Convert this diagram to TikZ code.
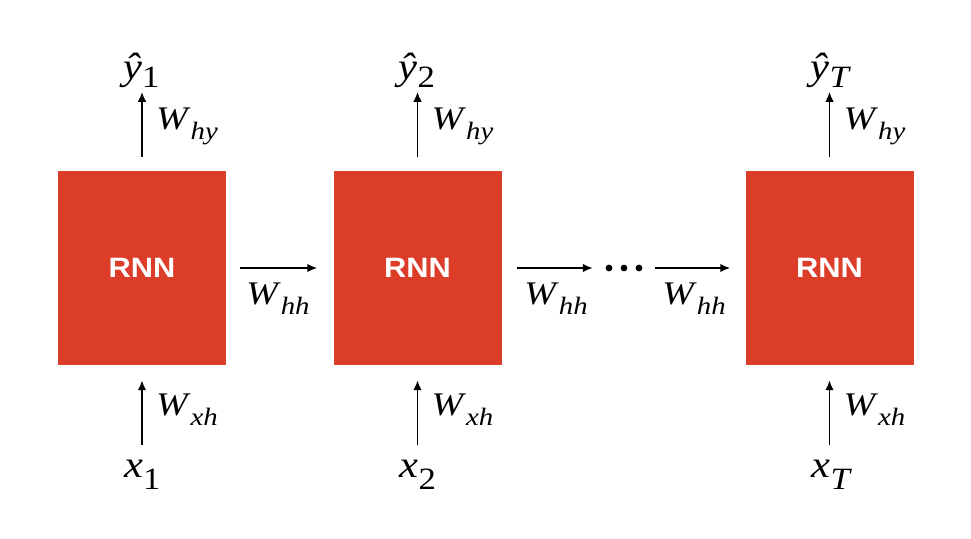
\documentclass[tikz,border=0pt]{standalone}
\usepackage{fontspec}
\usepackage{graphicx}
\setmainfont{Liberation Serif}
\newfontfamily\boxfont{Liberation Sans}
\usetikzlibrary{arrows.meta}
\definecolor{rnnred}{HTML}{DC3D28}
% W labels: slightly stretched Times-like italic with lowered subscript
\newcommand\wl[1]{\scalebox{1.15}[1]{\fontsize{33}{33}\selectfont\textit{W}\raisebox{-10pt}{\fontsize{25}{25}\selectfont\textit{#1}}}}
% input/output labels
\newcommand\io[3]{\scalebox{1.12}[1]{\fontsize{38}{38}\selectfont\textit{#1}\raisebox{-#3}{\fontsize{31}{31}\selectfont #2}}}
\begin{document}
\begin{tikzpicture}[x=1pt,y=1pt,
  rnnbox/.style={fill=rnnred, minimum width=168pt, minimum height=194pt, inner sep=0pt,
    font=\boxfont\bfseries\fontsize{28}{28}\selectfont, text=white},
  lab/.style={inner sep=0pt},
  arr/.style={line width=1.8pt, -{Latex[length=10pt,width=8.5pt]}}]
\useasboundingbox (0,0) rectangle (971,538);
\node[rnnbox] (b1) at (142,270) {\scalebox{1.1}[1]{RNN}};
\node[rnnbox] (b2) at (417.5,270) {\scalebox{1.1}[1]{RNN}};
\node[rnnbox] (b3) at (829.5,270) {\scalebox{1.1}[1]{RNN}};
% outputs
\node[lab, anchor=base west] (y1) at (123,458) {\io{ŷ}{1}{8pt}};
\node[lab, anchor=base west] (y2) at (398.5,458) {\io{ŷ}{2}{8pt}};
\node[lab, anchor=base west] (yT) at (810.5,458) {\io{ŷ}{\textit{T}}{8pt}};
\draw[arr] ([yshift=14pt]b1.north) -- ([yshift=79pt]b1.north);
\draw[arr] ([yshift=14pt]b2.north) -- ([yshift=79pt]b2.north);
\draw[arr] ([yshift=14pt]b3.north) -- ([yshift=79pt]b3.north);
\node[lab, anchor=base west] (w1) at (156,408) {\wl{hy}};
\node[lab, anchor=base west] (w2) at (431.5,408) {\wl{hy}};
\node[lab, anchor=base west] (w3) at (843.5,408) {\wl{hy}};
% inputs
\node[lab, anchor=base west] (x1) at (124,61) {\io{x}{1}{12pt}};
\node[lab, anchor=base west] (x2) at (399.5,61) {\io{x}{2}{12pt}};
\node[lab, anchor=base west] (xT) at (811.5,61) {\io{x}{\textit{T}}{12pt}};
\draw[arr] ([yshift=-80pt]b1.south) -- ([yshift=-15pt]b1.south);
\draw[arr] ([yshift=-80pt]b2.south) -- ([yshift=-15pt]b2.south);
\draw[arr] ([yshift=-80pt]b3.south) -- ([yshift=-15pt]b3.south);
\node[lab, anchor=base west] (v1) at (156,122) {\wl{xh}};
\node[lab, anchor=base west] (v2) at (431.5,122) {\wl{xh}};
\node[lab, anchor=base west] (v3) at (843.5,122) {\wl{xh}};
% recurrent
\node[minimum width=62pt, minimum height=10pt, inner sep=0pt] (dots) at (624,270) {};
\fill ([xshift=-15pt]dots.center) circle (3.4pt);
\fill (dots.center) circle (3.4pt);
\fill ([xshift=15pt]dots.center) circle (3.4pt);
\draw[arr] ([xshift=14pt]b1.east) -- ([xshift=-16pt]b2.west);
\draw[arr] ([xshift=15pt]b2.east) -- (dots.west);
\draw[arr] (dots.east) -- ([xshift=-15pt]b3.west);
\node[lab, anchor=base] (h1) at (278,233) {\wl{hh}};
\node[lab, anchor=base] (h2) at (556,233) {\wl{hh}};
\node[lab, anchor=base] (h3) at (694,233) {\wl{hh}};
\end{tikzpicture}
\end{document}
